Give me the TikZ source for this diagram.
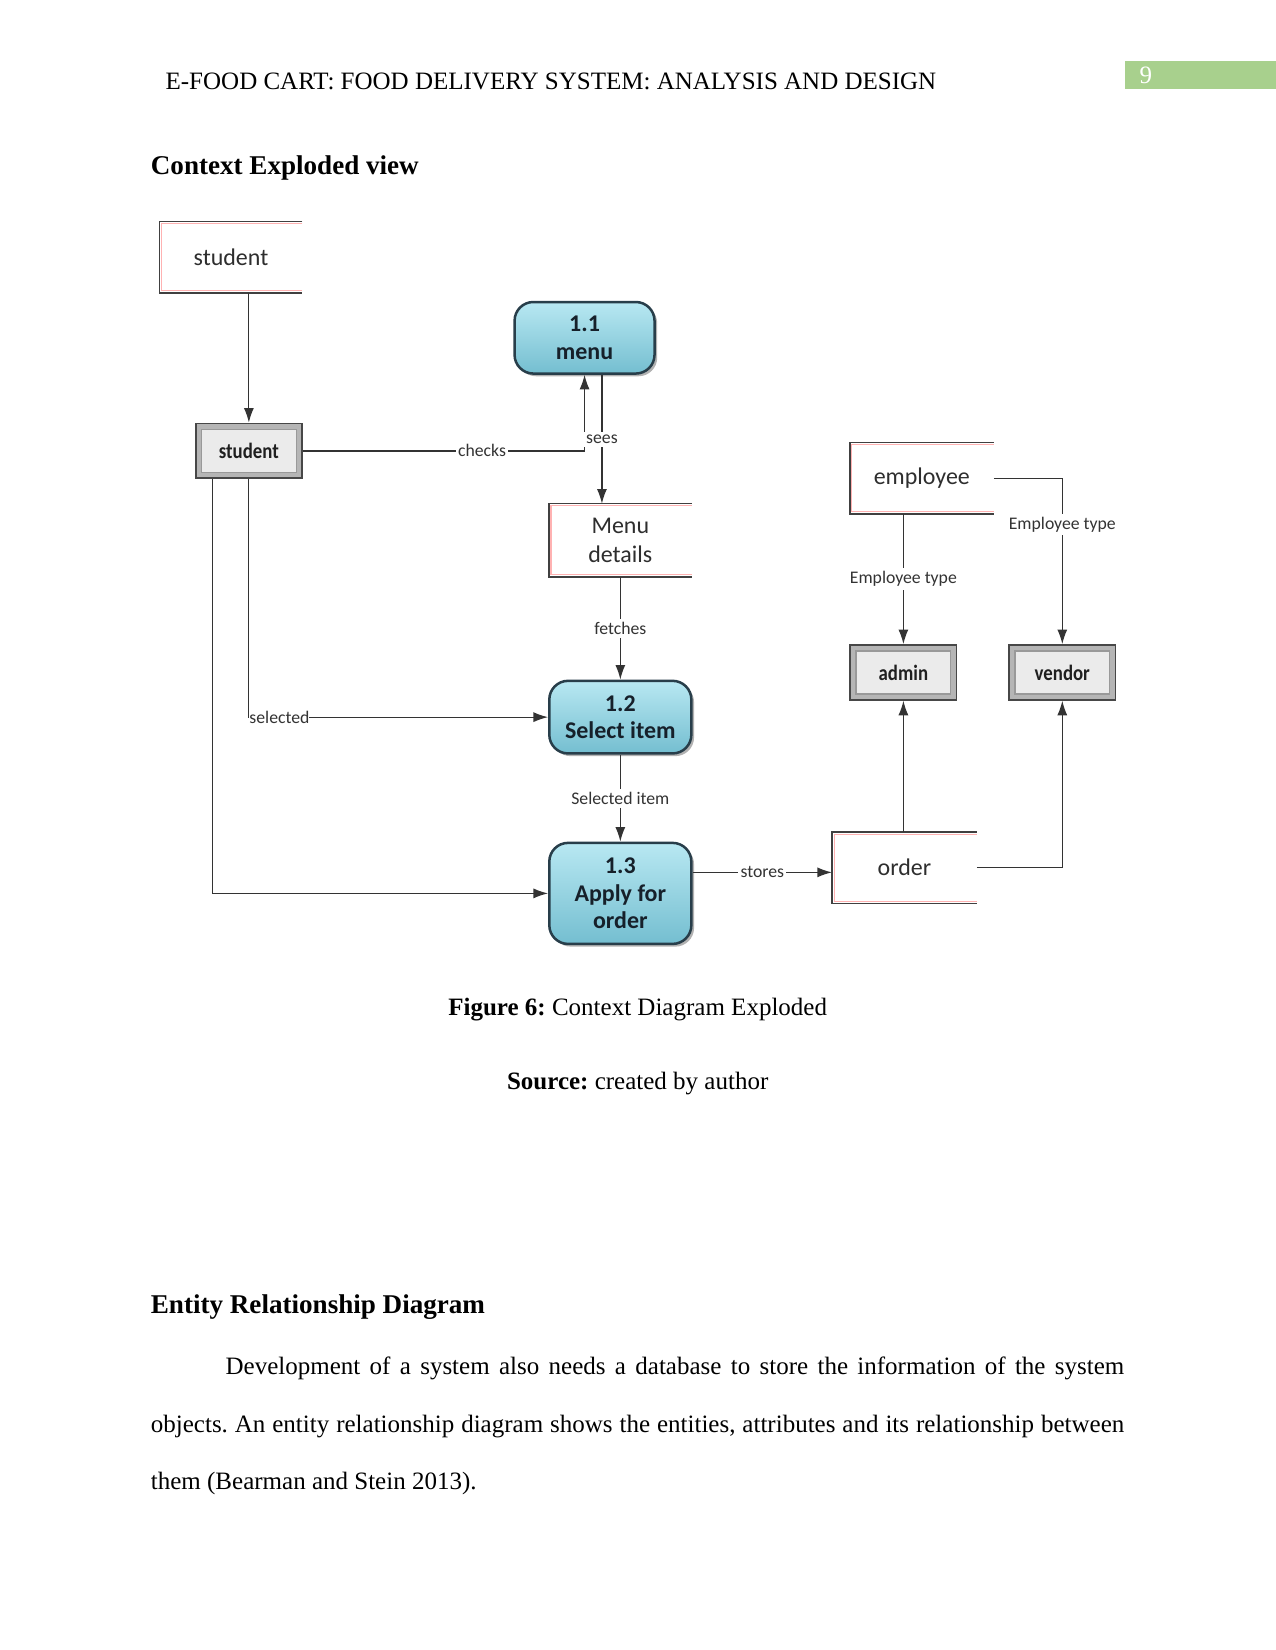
\documentclass[tikz,border=0pt]{standalone}
\usepackage{fontspec}
\usepackage{graphicx}
\setmainfont{Liberation Serif}
\newfontfamily\dfont{Carlito}
\usetikzlibrary{arrows.meta,calc,shadows}
\newlength\upx \setlength\upx{0.50495pt}
\definecolor{pagegreen}{RGB}{168,208,141}
\definecolor{procedge}{RGB}{40,62,74}
\definecolor{proctop}{RGB}{184,232,242}
\definecolor{procmid}{RGB}{144,212,228}
\definecolor{procbot}{RGB}{116,190,208}
\definecolor{proctext}{RGB}{22,32,42}
\newcommand\extsides[1]{%
  \draw[red!30, line width=0.5pt] ($(#1.north east)+(0,2)$) -- ($(#1.north west)+(2,2)$) -- ($(#1.south west)+(2,-2)$) -- ($(#1.south east)+(0,-2)$);
  \draw[black!75, line width=0.75pt] (#1.north east) -- (#1.north west) -- (#1.south west) -- (#1.south east);}
\newcommand\gtext[1]{\scalebox{0.86}[1]{#1}}
\frenchspacing
\begin{document}
\frenchspacing
\begin{tikzpicture}[x=0.50495pt,y=-0.50495pt,
  conn/.style={draw=black!80, line width=0.6pt},
  arr/.style={conn, -{Latex[length=7pt,width=4.8pt]}},
  lbl/.style={font=\dfont\fontsize{8.5}{10}\selectfont, text=black!80, fill=white, inner xsep=1pt, inner ysep=1.5pt},
  extent/.style={inner sep=0pt, font=\dfont\fontsize{11.5}{13.6}\selectfont, text=black!82, align=center},
  procbox/.style={rounded corners=9pt, draw=procedge, line width=1.2pt, top color=proctop, middle color=procmid, bottom color=procbot,
    drop shadow={shadow xshift=1.3pt, shadow yshift=-1.3pt, fill=black!50, opacity=0.6},
    inner sep=0pt, font=\dfont\bfseries\fontsize{11.5}{13.3}\selectfont, text=proctext, align=center},
  graybox/.style={draw=black!72, line width=0.9pt, fill=gray!58, inner sep=0pt,
    minimum width=101\upx, minimum height=52\upx,
    font=\dfont\bfseries\fontsize{10.5}{12}\selectfont, text=black!88,
    path picture={\draw[fill=gray!16, draw=gray!80, line width=0.6pt]
      ([shift={(2.8pt,2.8pt)}]path picture bounding box.south west) rectangle
      ([shift={(-2.8pt,-2.8pt)}]path picture bounding box.north east);}},
  bodytext/.style={inner sep=0pt, font=\fontsize{12}{14}\selectfont}
]
\useasboundingbox[fill=white] (0,0) rectangle (1212,1568);

% page header
\node[bodytext, anchor=base west] (hdr) at (157,85) {E-FOOD CART: FOOD DELIVERY SYSTEM: ANALYSIS AND DESIGN};
\node[fill=pagegreen, minimum width=143\upx, minimum height=26\upx, inner sep=0pt, anchor=north west] (pgbox) at (1069,58) {};
\node[bodytext, text=white, anchor=base] (pgnum) at (1089,79) {9};

\node[bodytext, anchor=base west, font=\bfseries\fontsize{13}{15}\selectfont] (h1) at (143,166) {Context Exploded view};

% external entities
\node[extent, minimum width=135\upx, minimum height=67\upx] (ext1) at (219.5,244.5) {student};
\extsides{ext1}
\node[extent, minimum width=135\upx, minimum height=69\upx] (menudet) at (589.5,513.5) {Menu\\details};
\extsides{menudet}
\node[extent, minimum width=136\upx, minimum height=67\upx] (employee) at (876,454.5) {employee};
\extsides{employee}
\node[extent, minimum width=137\upx, minimum height=67\upx] (order) at (859.5,824.5) {order};
\extsides{order}

% gray boxes
\node[graybox] (stuproc) at (236.5,428.5) {\gtext{student}};
\node[graybox] (admin) at (858.5,639) {\gtext{admin}};
\node[graybox] (vendor) at (1009.5,639) {\gtext{vendor}};

% processes
\node[procbox, minimum width=133\upx, minimum height=68\upx] (menu) at (555.5,321) {1.1\\menu};
\node[procbox, minimum width=135\upx, minimum height=69\upx] (sel) at (589.5,681.5) {1.2\\Select item};
\node[procbox, minimum width=135\upx, minimum height=96\upx] (apply) at (589.5,849) {1.3\\Apply for\\order};

% connectors
\draw[arr] (stuproc.north |- ext1.south) -- (stuproc.north);
\draw[arr] (stuproc.east) -| node[lbl, pos=0.318]{checks} (menu.south);
\draw[arr] ($(menu.south)+(16.5,0)$) coordinate (seesA) -- node[lbl]{sees} (seesA |- menudet.north);
\draw[arr] (menudet.south) -- node[lbl]{fetches} (sel.north);
\draw[arr] (stuproc.south) |- node[lbl, pos=0.5, anchor=west, inner xsep=0pt]{selected} (sel.west);
\draw[arr] ($(stuproc.south west)+(17,0)$) |- (apply.west);
\draw[arr] (sel.south) -- node[lbl]{Selected item} (apply.north);
\draw[arr] ($(apply.east)+(0,-20)$) -- node[lbl]{stores} ($(order.west)+(0,4.5)$);
\draw[arr] (admin.south |- order.north) -- (admin.south);
\draw[arr] (order.east) -| (vendor.south);
\draw[arr] (admin.north |- employee.south) -- node[lbl]{Employee type} (admin.north);
\draw[arr] (employee.east) -| node[lbl, pos=0.64]{Employee type} (vendor.north);

% captions and text
\node[bodytext, anchor=base] (cap) at (606,965) {\textbf{Figure 6:} Context Diagram Exploded};
\node[bodytext, anchor=base] (src) at (606,1035) {\textbf{Source:} created by author};
\node[bodytext, anchor=base west, font=\bfseries\fontsize{13}{15}\selectfont] (h2) at (143,1248) {Entity Relationship Diagram};
\node[bodytext, anchor=base west] (p1) at (214,1306) {\makebox[854\upx][s]{Development of a system also needs a database to store the information of the system}};
\node[bodytext, anchor=base west] (p2) at (143,1361) {\makebox[925\upx][s]{objects. An entity relationship diagram shows the entities, attributes and its relationship between}};
\node[bodytext, anchor=base west] (p3) at (143,1415) {them (Bearman and Stein 2013).};
\end{tikzpicture}
\end{document}
